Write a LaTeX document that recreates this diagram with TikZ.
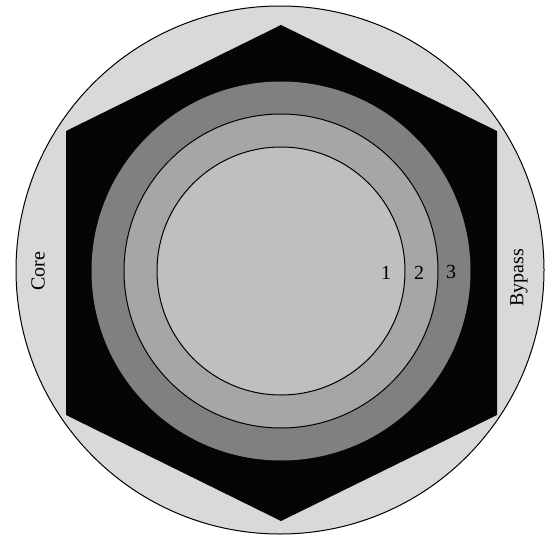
\documentclass[tikz,border=0pt]{standalone}
\usepackage{fontspec}
\setmainfont{Liberation Serif}
\usetikzlibrary{calc}
\tikzset{
  % shell outlines: thin black rim
  shell/.style={draw=black, line width=0.5pt},
  % region labels
  lbl/.style={font=\normalsize, inner sep=1pt},
  sidelbl/.style={lbl, rotate=90}
}

\begin{document}
\begin{tikzpicture}[x=0.5pt, y=-0.5pt]
\useasboundingbox (0,0) rectangle (546,535);

% ============== OUTER VESSEL ==============
\draw[shell, fill=black!15] (280,270) circle[radius=264];

% ============== HEXAGONAL BLOCK ==============
\fill[black!98] (281,25) -- (497,131) -- (497,415) -- (281,521)
  -- (66,415) -- (66,131) -- cycle;

% ============== CONCENTRIC ZONES (3 outer, 1 inner) ==============
\coordinate (c) at (281,271);
\fill[black!50] (c) circle[radius=189.5];
\draw[shell, fill=black!35] (c) circle[radius=157];
\draw[shell, fill=black!25] (c) circle[radius=124];

% zone numbers
\node[lbl] (z1) at (386,273) {1};
\node[lbl] (z2) at (419,273) {2};
\node[lbl] (z3) at (451,272) {3};

% side labels
\node[sidelbl] (core) at (38,271) {Core};
\node[sidelbl] (bypass) at (519,278) {Bypass};

\end{tikzpicture}
\end{document}
